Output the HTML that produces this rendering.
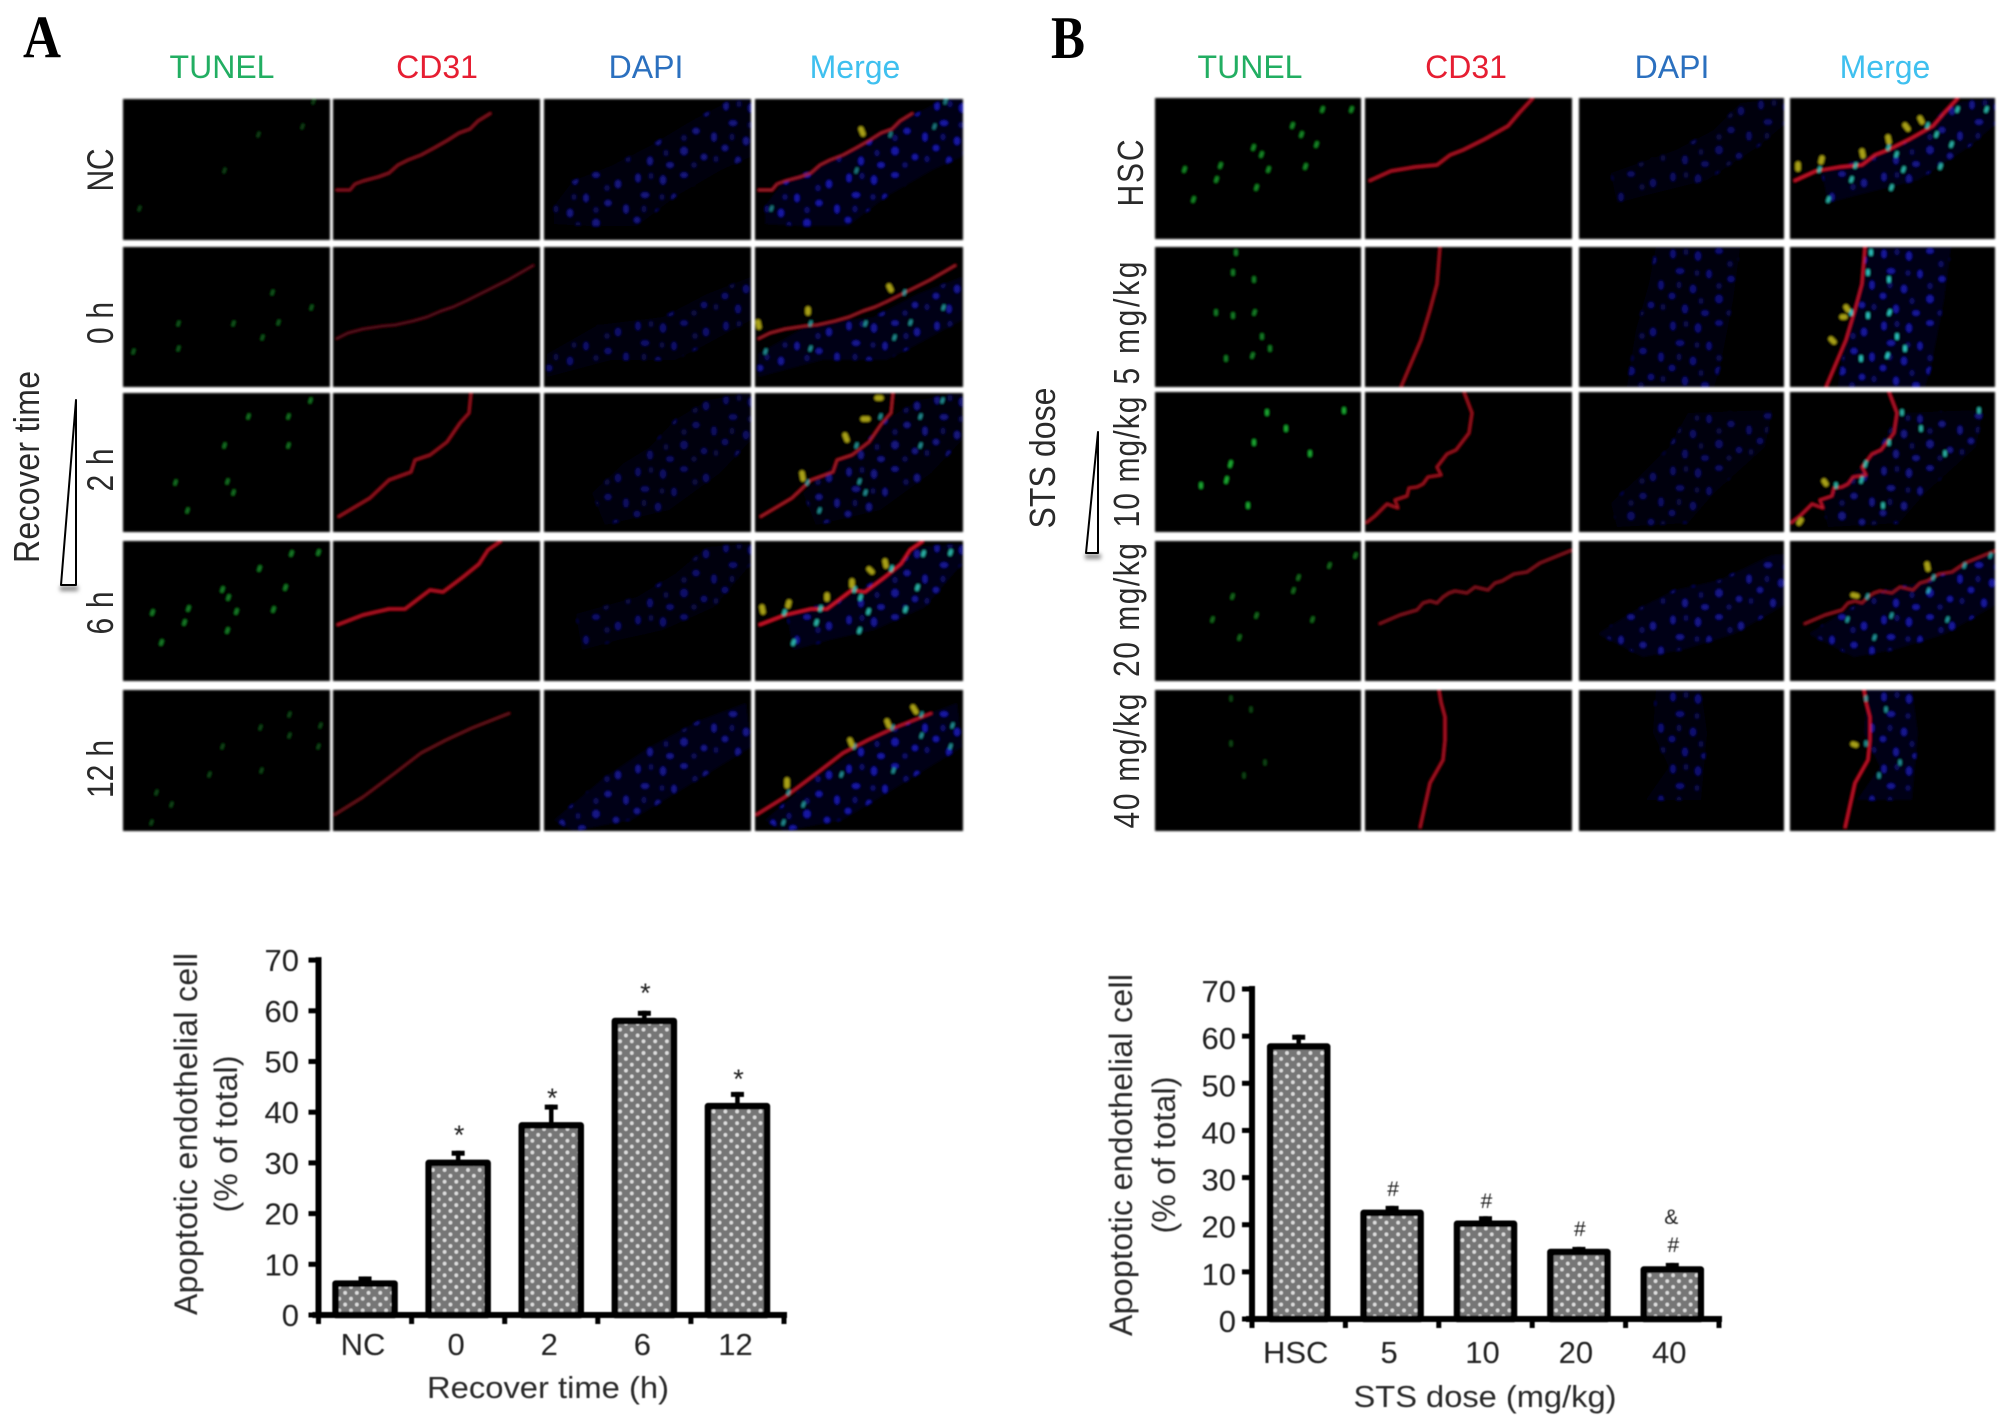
<!DOCTYPE html>
<html lang="en">
<head>
<meta charset="utf-8">
<title>Apoptotic endothelial cell figure</title>
<style>
  html, body { margin: 0; padding: 0; background: #fff; }
  svg#figure { display: block; font-family: "Liberation Sans", sans-serif; }
  .hdr { font-size: 32px; text-anchor: middle; }
  .rowlab { font-size: 30px; text-anchor: middle; fill: #2a2a2a; }
  .side { font-size: 32px; text-anchor: middle; fill: #2a2a2a; }
  .letter { font-family: "Liberation Serif", serif; font-weight: bold; font-size: 60px; text-anchor: middle; fill: #000; }
  .ytitle { font-size: 32px; text-anchor: middle; fill: #2a2a2a; }
  .tick { font-size: 31px; fill: #222; }
  .mark { fill: #222; text-anchor: middle; }
</style>
</head>
<body>
<svg id="figure" xmlns="http://www.w3.org/2000/svg" width="2008" height="1426" viewBox="0 0 2008 1426">
<defs>
  <filter id="soft" x="-2%" y="-2%" width="104%" height="104%"><feGaussianBlur stdDeviation="1"/></filter>
  <filter id="softer" x="-2%" y="-2%" width="104%" height="104%"><feGaussianBlur stdDeviation="0.5"/></filter>
  <filter id="shadow" x="-30%" y="-200%" width="160%" height="500%"><feGaussianBlur stdDeviation="2"/></filter>
  <pattern id="nuclei" patternUnits="userSpaceOnUse" width="88" height="72">
    <rect width="88" height="72" fill="#02021a"/>
    <g fill="#1c1cc0">
      <ellipse cx="6" cy="7" rx="2.6" ry="4.2"/><ellipse cx="31" cy="9" rx="3" ry="4.5"/><ellipse cx="52" cy="4" rx="3.6" ry="2.6"/>
      <ellipse cx="74" cy="13" rx="3" ry="4"/><ellipse cx="13" cy="24" rx="4" ry="2.8"/><ellipse cx="42" cy="27" rx="2.6" ry="4"/>
      <ellipse cx="64" cy="32" rx="3.4" ry="3"/><ellipse cx="82" cy="38" rx="2.6" ry="4.4"/><ellipse cx="26" cy="42" rx="3" ry="4"/>
      <ellipse cx="5" cy="49" rx="3.2" ry="3"/><ellipse cx="52" cy="52" rx="3.6" ry="4"/><ellipse cx="72" cy="58" rx="3" ry="3"/>
      <ellipse cx="18" cy="62" rx="2.8" ry="4.2"/><ellipse cx="38" cy="66" rx="3.6" ry="2.8"/>
    </g>
    <g fill="#0e0e78">
      <ellipse cx="19" cy="5" rx="2.4" ry="3"/><ellipse cx="63" cy="17" rx="2.6" ry="3"/><ellipse cx="30" cy="26" rx="2.4" ry="2.8"/>
      <ellipse cx="52" cy="39" rx="2.6" ry="3"/><ellipse cx="12" cy="38" rx="2.4" ry="3.2"/><ellipse cx="84" cy="60" rx="2.4" ry="3"/>
      <ellipse cx="62" cy="66" rx="2.6" ry="2.6"/><ellipse cx="34" cy="54" rx="2.4" ry="3"/>
    </g>
  </pattern>
  <pattern id="dots" patternUnits="userSpaceOnUse" width="11.7" height="11.7">
    <rect width="11.7" height="11.7" fill="#767676"/>
    <g fill="#dcdcdc"><circle cx="0" cy="0" r="1.9"/><circle cx="11.7" cy="0" r="1.9"/><circle cx="0" cy="11.7" r="1.9"/><circle cx="11.7" cy="11.7" r="1.9"/><circle cx="5.85" cy="5.85" r="1.9"/></g>
  </pattern>

  <!-- Panel A rows -->
  <path id="a1-r" fill="none" stroke-linejoin="round" d="M3 91L17 91L22 85L30 82L45 78L56 74L65 66L75 61L88 56L101 49L115 41L126 34L137 30L145 22L158 14"/>
  <polygon id="a1-b" points="10,107 29,82 67,67 106,47 144,24 189,0 208,0 208,57 177,71 132,97 93,127 48,127 10,125"/>
  <path id="a1-g" fill="none" stroke-linecap="round" d="M190 4l1-3M179 29l1-3M135 37l1-3M101 73l1-3M16 111l1-3"/>
  <path id="a1-y" fill="none" stroke-linecap="round" d="M106 30l2 5"/>

  <path id="a2-r" fill="none" stroke-linejoin="round" d="M3 92L15 86L30 82L50 79L62 78L80 74L94 70L108 64L120 60L133 54L147 47L175 33L201 18"/>
  <polygon id="a2-b" points="3,107 54,78 119,70 163,47 207,30 207,73 157,100 131,113 67,113 3,130"/>
  <path id="a2-g" fill="none" stroke-linecap="round" d="M149 47l1-3M188 62l1-3M110 78l1-3M155 77l1-3M139 92l1-3M55 78l1-3M55 103l1-3M10 106l1-3"/>
  <path id="a2-y" fill="none" stroke-linecap="round" d="M134 39l2 4M53 62l0 4M3 75l1 5"/>

  <path id="a3-r" fill="none" stroke-linejoin="round" d="M138 0L136 20L127 30L114 49L97 62L82 67L78 79L56 87L37 105L5 124"/>
  <polygon id="a3-b" points="48,100 80,70 106,54 131,27 164,7 207,0 207,47 176,80 125,117 61,132"/>
  <path id="a3-g" fill="none" stroke-linecap="round" d="M125 25l1-3M165 25l1-3M165 54l1-3M101 54l1-3M104 90l1-3M110 101l1-3M52 91l1-3M64 119l1-3M187 9l1-3"/>
  <path id="a3-y" fill="none" stroke-linecap="round" d="M122 5l4 0M108 26l5 0M90 42l2 5M47 80l1 6"/>

  <path id="a4-r" fill="none" stroke-linejoin="round" d="M4 84L30 74L56 68L72 68L97 49L110 51L130 36L146 23L155 9L168 0"/>
  <polygon id="a4-b" points="32,73 93,56 131,33 163,6 207,3 207,23 170,66 119,89 74,99 38,109"/>
  <path id="a4-g" fill="none" stroke-linecap="round" d="M168 14l1-3M195 13l1-3M136 29l1-3M162 48l1-3M99 50l1-3M105 58l1-3M65 69l1-3M113 72l1-3M150 70l1-3M61 83l1-3M104 91l1-3M38 103l1-3M29 73l1-3"/>
  <path id="a4-y" fill="none" stroke-linecap="round" d="M7 66l1 5M34 61l-1 4M72 54l0 4M97 40l0 5M114 28l3 3M130 20l1 5"/>

  <path id="a5-r" fill="none" stroke-linejoin="round" d="M1 125L30 107L62 83L88 63L113 50L139 38L177 23"/>
  <polygon id="a5-b" points="10,130 61,87 106,57 157,30 202,13 207,57 132,103 87,130 29,141"/>
  <path id="a5-g" fill="none" stroke-linecap="round" d="M166 26l1-3M137 39l1-3M197 37l1-3M166 47l1-3M99 58l1-3M195 58l1-3M86 86l1-3M138 82l1-3M33 104l1-3M48 116l1-3M28 134l1-3"/>
  <path id="a5-y" fill="none" stroke-linecap="round" d="M158 17l3 5M132 31l2 5M95 50l2 5M32 90l0 6"/>

  <!-- Panel B rows -->
  <path id="b1-r" fill="none" stroke-linejoin="round" d="M4 83L26 73L50 69L72 67L85 57L98 52L120 41L143 28L155 14L168 0"/>
  <polygon id="b1-b" points="32,75 97,52 135,32 161,5 207,0 207,25 180,48 128,82 64,98 38,105"/>
  <path id="b1-g" fill="none" stroke-linecap="round" d="M167 13l1-3M196 13l1-3M137 29l1-3M146 38l1-3M98 51l1-3M106 58l1-3M161 48l1-3M65 69l1-3M113 73l1-3M150 70l1-3M101 91l1-3M61 83l1-3M38 103l1-3M29 73l1-3"/>
  <path id="b1-y" fill="none" stroke-linecap="round" d="M8 66l0 5M32 60l-1 4M72 53l1 5M98 39l1 5M115 27l3 4M130 20l2 4"/>

  <path id="b2-r" fill="none" stroke-linejoin="round" d="M75 0L72 37L65 63L56 93L36 140"/>
  <polygon id="b2-b" points="77,0 70,37 57,83 48,140 135,140 141,120 154,53 161,0"/>
  <path id="b2-g" fill="none" stroke-linecap="round" d="M81 7l0-3M78 27l0-3M99 34l0-3M99 67l1-3M78 70l0-3M115 103l0-3M97 110l1-3M71 113l0-3M61 67l0-3M107 91l0-3"/>
  <path id="b2-y" fill="none" stroke-linecap="round" d="M56 60l2 3M52 70l3 0M41 92l3 3"/>

  <path id="b3-r" fill="none" stroke-linejoin="round" d="M99 0L107 21L104 41L91 58L82 62L72 75L76 83L63 85L58 92L52 95L44 96L42 104L30 108L33 116L22 112L10 124L1 131"/>
  <polygon id="b3-b" points="109,21 90,55 64,81 32,111 38,135 109,131 135,101 186,55 193,18"/>
  <path id="b3-g" fill="none" stroke-linecap="round" d="M112 22l0-3M189 20l0-3M131 38l0-3M99 52l0-3M155 63l0-3M75 74l1-4M71 90l1-4M46 95l0-3M93 115l0-3"/>
  <path id="b3-y" fill="none" stroke-linecap="round" d="M34 89l2 3M9 131l2-3"/>

  <path id="b4-r" fill="none" stroke-linejoin="round" d="M14 83L35 74L52 69L58 62L65 60L72 62L78 56L84 52L90 50L102 52L110 46L123 49L130 42L137 40L149 33L162 31L175 22L207 9"/>
  <polygon id="b4-b" points="25,89 57,69 96,49 141,39 193,14 207,13 207,63 155,93 103,109 64,116 19,93"/>
  <path id="b4-g" fill="none" stroke-linecap="round" d="M174 26l1-3M200 16l1-3M143 38l1-3M138 51l1-3M101 76l1-3M57 80l1-3M157 80l1-3M84 98l1-3M77 57l1-3"/>
  <path id="b4-y" fill="none" stroke-linecap="round" d="M137 23l1 5M63 54l4 1"/>

  <path id="b5-r" fill="none" stroke-linejoin="round" d="M74 0L76 12L80 27L80 50L78 70L65 93L55 138"/>
  <polygon id="b5-b" points="77,0 74,43 90,77 67,110 122,110 128,43 122,0"/>
  <path id="b5-g" fill="none" stroke-linecap="round" d="M76 10l0-3M96 21l0-3M76 55l0-3M110 74l0-3M89 87l0-3"/>
  <path id="b5-y" fill="none" stroke-linecap="round" d="M63 54l3 1"/>
</defs>

<text class="letter" transform="translate(42 57)" textLength="38" lengthAdjust="spacingAndGlyphs">A</text>
<text class="letter" transform="translate(1068 58)" textLength="34" lengthAdjust="spacingAndGlyphs">B</text>

<g>
  <text class="hdr" x="222" y="78" fill="#22ae62">TUNEL</text>
  <text class="hdr" x="437" y="78" fill="#e61e32">CD31</text>
  <text class="hdr" x="646" y="78" fill="#2b70bf">DAPI</text>
  <text class="hdr" x="855" y="78" fill="#3fc0ef">Merge</text>
</g>
<g>
  <text class="hdr" x="1250" y="78" fill="#22ae62">TUNEL</text>
  <text class="hdr" x="1466" y="78" fill="#e61e32">CD31</text>
  <text class="hdr" x="1672" y="78" fill="#2b70bf">DAPI</text>
  <text class="hdr" x="1885" y="78" fill="#3fc0ef">Merge</text>
</g>

<g>
  <text class="rowlab" transform="translate(113 170) rotate(-90) scale(1 1.25)" textLength="43">NC</text>
  <text class="rowlab" transform="translate(113 323) rotate(-90) scale(1 1.25)" textLength="42">0 h</text>
  <text class="rowlab" transform="translate(113 470) rotate(-90) scale(1 1.25)" textLength="43">2 h</text>
  <text class="rowlab" transform="translate(113 613) rotate(-90) scale(1 1.25)" textLength="43">6 h</text>
  <text class="rowlab" transform="translate(113 769) rotate(-90) scale(1 1.25)" textLength="58">12 h</text>
</g>
<g>
  <text class="rowlab" transform="translate(1143 173) rotate(-90) scale(1 1.2)" textLength="67">HSC</text>
  <text class="rowlab" transform="translate(1139 323) rotate(-90) scale(1 1.2)" textLength="123">5 mg/kg</text>
  <text class="rowlab" transform="translate(1139 462) rotate(-90) scale(1 1.2)" textLength="131">10 mg/kg</text>
  <text class="rowlab" transform="translate(1139 610) rotate(-90) scale(1 1.2)" textLength="134">20 mg/kg</text>
  <text class="rowlab" transform="translate(1139 761) rotate(-90) scale(1 1.2)" textLength="135">40 mg/kg</text>
</g>

<text class="side" transform="translate(39 467) rotate(-90) scale(1 1.12)" textLength="192">Recover time</text>
<text class="side" transform="translate(1055 458) rotate(-90) scale(1 1.12)" textLength="141">STS dose</text>

<g>
  <rect x="60" y="586" width="18" height="5" fill="#888" filter="url(#shadow)"/>
  <polygon points="76,400 76,585 61,585" fill="#fff" stroke="#000" stroke-width="2" stroke-linejoin="round"/>
</g>
<g>
  <rect x="1085" y="554" width="16" height="5" fill="#888" filter="url(#shadow)"/>
  <polygon points="1098,432 1098,553 1086,553" fill="#fff" stroke="#000" stroke-width="2" stroke-linejoin="round"/>
</g>

<!-- Micrographs panel A -->
<g filter="url(#soft)">
  <svg x="123" y="99" width="207" height="141"><rect width="208" height="141"/><use href="#a1-g" stroke="#1d9a30" stroke-width="3" opacity=".4"/></svg>
  <svg x="333" y="99" width="207" height="141"><rect width="208" height="141"/><use href="#a1-r" stroke="#8a1622" stroke-width="2"/></svg>
  <svg x="544" y="99" width="207" height="141"><rect width="208" height="141"/><use href="#a1-b" fill="url(#nuclei)" opacity=".65"/></svg>
  <svg x="755" y="99" width="208" height="141"><rect width="208" height="141"/><use href="#a1-b" fill="url(#nuclei)" opacity=".85"/><use href="#a1-r" stroke="#a81a2c" stroke-width="2"/><use href="#a1-g" stroke="#30c8c8" stroke-width="3" opacity=".6"/><use href="#a1-y" stroke="#a8a018" stroke-width="5"/></svg>

  <svg x="123" y="247" width="207" height="140"><rect width="208" height="141"/><use href="#a2-g" stroke="#1d9a30" stroke-width="3" opacity=".55"/></svg>
  <svg x="333" y="247" width="207" height="140"><rect width="208" height="141"/><use href="#a2-r" stroke="#5c101a" stroke-width="2"/></svg>
  <svg x="544" y="247" width="207" height="140"><rect width="208" height="141"/><use href="#a2-b" fill="url(#nuclei)" opacity=".55"/></svg>
  <svg x="755" y="247" width="208" height="140"><rect width="208" height="141"/><use href="#a2-b" fill="url(#nuclei)" opacity=".75"/><use href="#a2-r" stroke="#a01a28" stroke-width="2"/><use href="#a2-g" stroke="#30c8c8" stroke-width="3" opacity=".7"/><use href="#a2-y" stroke="#a8a018" stroke-width="5"/></svg>

  <svg x="123" y="393" width="207" height="139"><rect width="208" height="141"/><use href="#a3-g" stroke="#1fae34" stroke-width="3" opacity=".65"/></svg>
  <svg x="333" y="393" width="207" height="139"><rect width="208" height="141"/><use href="#a3-r" stroke="#a01822" stroke-width="2"/></svg>
  <svg x="544" y="393" width="207" height="139"><rect width="208" height="141"/><use href="#a3-b" fill="url(#nuclei)" opacity=".5"/></svg>
  <svg x="755" y="393" width="208" height="139"><rect width="208" height="141"/><use href="#a3-b" fill="url(#nuclei)" opacity=".65"/><use href="#a3-r" stroke="#b01a28" stroke-width="2"/><use href="#a3-g" stroke="#30c8c8" stroke-width="3" opacity=".7"/><use href="#a3-y" stroke="#a8a018" stroke-width="5"/></svg>

  <svg x="123" y="541" width="207" height="140"><rect width="208" height="141"/><use href="#a4-g" stroke="#1fae34" stroke-width="3.4" opacity=".7"/></svg>
  <svg x="333" y="541" width="207" height="140"><rect width="208" height="141"/><use href="#a4-r" stroke="#c01525" stroke-width="2.2"/></svg>
  <svg x="544" y="541" width="207" height="140"><rect width="208" height="141"/><use href="#a4-b" fill="url(#nuclei)" opacity=".55"/></svg>
  <svg x="755" y="541" width="208" height="140"><rect width="208" height="141"/><use href="#a4-b" fill="url(#nuclei)" opacity=".75"/><use href="#a4-r" stroke="#d8182a" stroke-width="2.4"/><use href="#a4-g" stroke="#30d0c0" stroke-width="3.6" opacity=".85"/><use href="#a4-y" stroke="#a8a018" stroke-width="5"/></svg>

  <svg x="123" y="690" width="207" height="141"><rect width="208" height="141"/><use href="#a5-g" stroke="#1d9a30" stroke-width="3" opacity=".45"/></svg>
  <svg x="333" y="690" width="207" height="141"><rect width="208" height="141"/><use href="#a5-r" stroke="#6c121c" stroke-width="2"/></svg>
  <svg x="544" y="690" width="207" height="141"><rect width="208" height="141"/><use href="#a5-b" fill="url(#nuclei)" opacity=".7"/></svg>
  <svg x="755" y="690" width="208" height="141"><rect width="208" height="141"/><use href="#a5-b" fill="url(#nuclei)" opacity=".85"/><use href="#a5-r" stroke="#c0182a" stroke-width="2.2"/><use href="#a5-g" stroke="#30c8c8" stroke-width="3" opacity=".7"/><use href="#a5-y" stroke="#a8a018" stroke-width="5"/></svg>
</g>

<!-- Micrographs panel B -->
<g filter="url(#soft)">
  <svg x="1155" y="98" width="206" height="141"><rect width="208" height="141"/><use href="#b1-g" stroke="#1fb434" stroke-width="3.4" opacity=".75"/></svg>
  <svg x="1365" y="98" width="207" height="141"><rect width="208" height="141"/><use href="#b1-r" stroke="#b81626" stroke-width="2.2"/></svg>
  <svg x="1579" y="98" width="205" height="141"><rect width="208" height="141"/><use href="#b1-b" fill="url(#nuclei)" opacity=".5"/></svg>
  <svg x="1790" y="98" width="205" height="141"><rect width="208" height="141"/><use href="#b1-b" fill="url(#nuclei)" opacity=".7"/><use href="#b1-r" stroke="#d0182a" stroke-width="2.4"/><use href="#b1-g" stroke="#30d0c0" stroke-width="3.4" opacity=".85"/><use href="#b1-y" stroke="#a8a018" stroke-width="5"/></svg>

  <svg x="1155" y="247" width="206" height="140"><rect width="208" height="141"/><use href="#b2-g" stroke="#1fb434" stroke-width="3.2" opacity=".7"/></svg>
  <svg x="1365" y="247" width="207" height="140"><rect width="208" height="141"/><use href="#b2-r" stroke="#a81622" stroke-width="2"/></svg>
  <svg x="1579" y="247" width="205" height="140"><rect width="208" height="141"/><use href="#b2-b" fill="url(#nuclei)" opacity=".6"/></svg>
  <svg x="1790" y="247" width="205" height="140"><rect width="208" height="141"/><use href="#b2-b" fill="url(#nuclei)" opacity=".8"/><use href="#b2-r" stroke="#c8182a" stroke-width="2.2"/><use href="#b2-g" stroke="#30d8d0" stroke-width="3.4" opacity=".9"/><use href="#b2-y" stroke="#a8a018" stroke-width="5"/></svg>

  <svg x="1155" y="392" width="206" height="140"><rect width="208" height="141"/><use href="#b3-g" stroke="#20c838" stroke-width="3.4" opacity=".85"/></svg>
  <svg x="1365" y="392" width="207" height="140"><rect width="208" height="141"/><use href="#b3-r" stroke="#a81622" stroke-width="2"/></svg>
  <svg x="1579" y="392" width="205" height="140"><rect width="208" height="141"/><use href="#b3-b" fill="url(#nuclei)" opacity=".5"/></svg>
  <svg x="1790" y="392" width="205" height="140"><rect width="208" height="141"/><use href="#b3-b" fill="url(#nuclei)" opacity=".65"/><use href="#b3-r" stroke="#c0182a" stroke-width="2.2"/><use href="#b3-g" stroke="#30d0c0" stroke-width="3.2" opacity=".85"/><use href="#b3-y" stroke="#a8a018" stroke-width="5"/></svg>

  <svg x="1155" y="541" width="206" height="140"><rect width="208" height="141"/><use href="#b4-g" stroke="#1fae34" stroke-width="3.2" opacity=".6"/></svg>
  <svg x="1365" y="541" width="207" height="140"><rect width="208" height="141"/><use href="#b4-r" stroke="#8a1420" stroke-width="2"/></svg>
  <svg x="1579" y="541" width="205" height="140"><rect width="208" height="141"/><use href="#b4-b" fill="url(#nuclei)" opacity=".7"/></svg>
  <svg x="1790" y="541" width="205" height="140"><rect width="208" height="141"/><use href="#b4-b" fill="url(#nuclei)" opacity=".8"/><use href="#b4-r" stroke="#9a1624" stroke-width="2"/><use href="#b4-g" stroke="#30c8c8" stroke-width="3" opacity=".75"/><use href="#b4-y" stroke="#a8a018" stroke-width="5"/></svg>

  <svg x="1155" y="690" width="206" height="141"><rect width="208" height="141"/><use href="#b5-g" stroke="#1d9a30" stroke-width="3" opacity=".45"/></svg>
  <svg x="1365" y="690" width="207" height="141"><rect width="208" height="141"/><use href="#b5-r" stroke="#b81626" stroke-width="2"/></svg>
  <svg x="1579" y="690" width="205" height="141"><rect width="208" height="141"/><use href="#b5-b" fill="url(#nuclei)" opacity=".6"/></svg>
  <svg x="1790" y="690" width="205" height="141"><rect width="208" height="141"/><use href="#b5-b" fill="url(#nuclei)" opacity=".75"/><use href="#b5-r" stroke="#d0182a" stroke-width="2.2"/><use href="#b5-g" stroke="#30c8c8" stroke-width="3" opacity=".7"/><use href="#b5-y" stroke="#a8a018" stroke-width="5"/></svg>
</g>

<g id="chart-a" filter="url(#softer)"></g>
<g id="chart-b" filter="url(#softer)"></g>
</svg>

<script>
const yTickLabels = [0, 10, 20, 30, 40, 50, 60, 70];

const recoverCategories = ['NC', '0', '2', '6', '12'];
const recoverValues = [6.2, 30, 37.4, 58, 41.2];
const recoverErrorTops = [7.6, 32.4, 41.5, 60, 44];
const recoverMarkSymbols = ['', '*', '*', '*', '*'];
const recoverMarkLevels = [0, 36.9, 44.2, 64.9, 47.9];

const doseCategories = ['HSC', '5', '10', '20', '40'];
const doseValues = [57.8, 22.5, 20.2, 14.2, 10.5];
const doseErrorTops = [60.3, 24, 21.8, 15.3, 11.9];
const doseMarkSymbols = ['', '#', '#', '#', '#'];
const doseMarkLevels = [0, 27.6, 25, 19.1, 15.7];
const doseUpperMarkSymbols = ['', '', '', '', '&'];
const doseUpperMarkLevels = [0, 0, 0, 0, 21.6];

const NS = 'http://www.w3.org/2000/svg';

function mk(parent, tag, attrs) {
  const el = document.createElementNS(NS, tag);
  for (const k in attrs) el.setAttribute(k, attrs[k]);
  parent.appendChild(el);
  return el;
}

function drawBarChart(root, cfg) {
  const yOf = v => cfg.y0 - v * cfg.unit;
  const xOf = i => cfg.axisX + (i + 0.5) * cfg.step;

  yTickLabels.forEach(t => {
    const tick = mk(root, 'line', { x1: cfg.axisX - 10, x2: cfg.axisX, y1: yOf(t), y2: yOf(t), stroke: '#000', 'stroke-width': 5 });
    
    
    const lab = mk(root, 'text', { class: 'tick', x: cfg.labelRight, y: yOf(t) + 11 + cfg.labelDrop, 'text-anchor': 'end' });
    lab.textContent = t;
    
    
  });

  cfg.categories.forEach((c, i) => {
    const cx = xOf(i);
    const top = yOf(cfg.values[i]);
    const errTop = yOf(cfg.errors[i]);

    const stem = mk(root, 'line', { x1: cx, x2: cx, y1: errTop, y2: top, stroke: '#000', 'stroke-width': 4.5 });
    
    

    const cap = mk(root, 'rect', { x: cx - 6.5, y: errTop, width: 13, height: 5, fill: '#000' });
    
    

    const bar = mk(root, 'rect', { x: cx - cfg.barW / 2, y: top, width: cfg.barW, height: cfg.y0 - top, fill: 'url(#dots)', stroke: '#000', 'stroke-width': 6.5, 'stroke-linejoin': 'round' });
    
    

    const xl = mk(root, 'text', { class: 'tick', x: cx + cfg.labelShift, y: cfg.xLabelY, 'text-anchor': 'middle' });
    xl.textContent = c;
    
    

    if (cfg.marks[i]) {
      const star = cfg.marks[i] === '*';
      const fs = star ? 27 : 21;
      const m = mk(root, 'text', { class: 'mark', x: cx + 1, y: yOf(cfg.markLevels[i]) + (star ? fs * 0.59 : 7), 'font-size': fs });
      m.textContent = cfg.marks[i];
      
      
    }
    if (cfg.upperMarks && cfg.upperMarks[i]) {
      const u = mk(root, 'text', { class: 'mark', x: cx - 1, y: yOf(cfg.upperMarkLevels[i]) + 7, 'font-size': 21 });
      u.textContent = cfg.upperMarks[i];
      
      
    }
  });

  const yAxis = mk(root, 'line', { x1: cfg.axisX, x2: cfg.axisX, y1: yOf(70) - 3, y2: cfg.y0 + 3, stroke: '#000', 'stroke-width': 6 });
  
  

  const xAxis = mk(root, 'line', { x1: cfg.axisX - 6, x2: cfg.axisX + cfg.step * cfg.categories.length + 3, y1: cfg.y0, y2: cfg.y0, stroke: '#000', 'stroke-width': 6 });
  
  

  for (let i = 0; i <= cfg.categories.length; i++) {
    const tx = cfg.axisX + i * cfg.step;
    const xt = mk(root, 'line', { x1: tx, x2: tx, y1: cfg.y0, y2: cfg.y0 + 9, stroke: '#000', 'stroke-width': 5 });
    
    
  }

  const xTitle = mk(root, 'text', { class: 'ytitle', x: cfg.xTitleX, y: cfg.xTitleY, style: 'font-size:31px', textLength: cfg.xTitleLen, lengthAdjust: 'spacingAndGlyphs' });
  xTitle.textContent = cfg.xTitle;
  
  

  const yTitle = mk(root, 'text', { class: 'ytitle', transform: 'translate(' + cfg.yTitleX + ' ' + cfg.yTitleY + ') rotate(-90)', textLength: 362 });
  yTitle.textContent = 'Apoptotic endothelial cell';
  
  

  const ySub = mk(root, 'text', { class: 'ytitle', transform: 'translate(' + cfg.ySubX + ' ' + cfg.yTitleY + ') rotate(-90)', textLength: 157 });
  ySub.textContent = '(% of total)';
  
  
}

drawBarChart(document.getElementById('chart-a'), {
  categories: recoverCategories, values: recoverValues, errors: recoverErrorTops,
  marks: recoverMarkSymbols, markLevels: recoverMarkLevels,
  axisX: 318.5, y0: 1315, unit: 5.07, step: 93.1, barW: 59, labelRight: 299, labelShift: -2, labelDrop: 0,
  xLabelY: 1355, xTitle: 'Recover time (h)', xTitleX: 548, xTitleY: 1398, xTitleLen: 242,
  yTitleX: 197, yTitleY: 1134, ySubX: 237
});

drawBarChart(document.getElementById('chart-b'), {
  categories: doseCategories, values: doseValues, errors: doseErrorTops,
  marks: doseMarkSymbols, markLevels: doseMarkLevels,
  upperMarks: doseUpperMarkSymbols, upperMarkLevels: doseUpperMarkLevels,
  axisX: 1252, y0: 1319, unit: 4.714, step: 93.4, barW: 57, labelRight: 1236, labelShift: -3, labelDrop: 2,
  xLabelY: 1363, xTitle: 'STS dose (mg/kg)', xTitleX: 1485, xTitleY: 1407, xTitleLen: 263,
  yTitleX: 1132, yTitleY: 1155, ySubX: 1175
});
</script>
</body>
</html>
